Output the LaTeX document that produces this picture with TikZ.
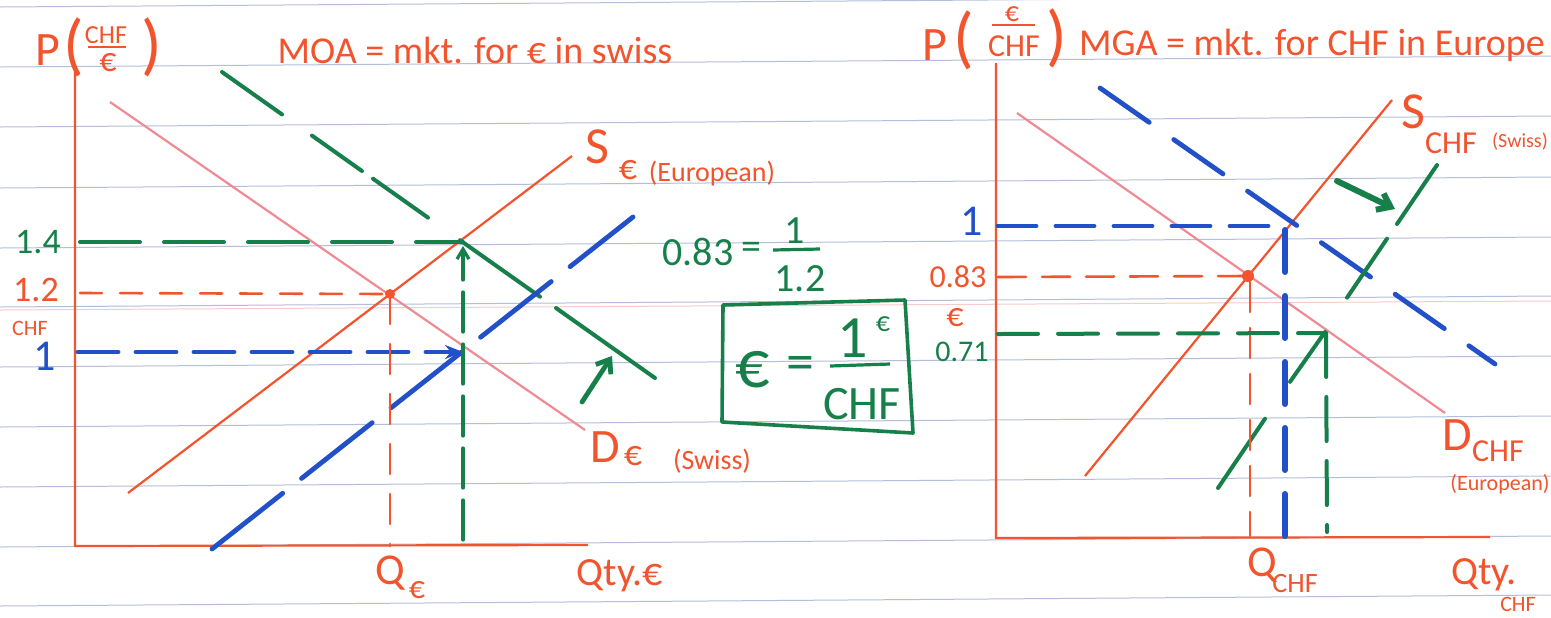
\documentclass[tikz,border=0pt]{standalone}
\usepackage{fontspec}
\setmainfont{Carlito}
\usetikzlibrary{arrows.meta}
\definecolor{ored}{HTML}{F2542D}
\definecolor{pinkl}{HTML}{F08A93}
\definecolor{dgreen}{HTML}{17804A}
\definecolor{mblue}{HTML}{2250C8}
\definecolor{ruled}{HTML}{B3BEDD}
\newcommand\fsz[1]{\fontsize{#1}{#1}\selectfont}
\tikzset{
  ol/.style={text=ored, inner sep=0pt},
  gl/.style={text=dgreen, inner sep=0pt},
  bl/.style={text=mblue, inner sep=0pt},
  axisline/.style={ored, line width=1.1pt},
  supline/.style={ored, line width=1.1pt},
  demline/.style={pinkl, line width=1.1pt},
  gdash/.style={dgreen, line width=2pt, line cap=round},
  bdash/.style={mblue, line width=2.4pt, line cap=round},
  odash/.style={ored, line width=1.3pt, line cap=round},
  eqdot/.style={fill=ored},
  marker/.style={dgreen, line width=2.4pt, line cap=round, line join=round},
}
\begin{document}
\begin{tikzpicture}[x=0.5pt,y=-0.5pt]
\useasboundingbox (0,0) rectangle (1551,617);
\fill[white] (0,0) rectangle (1551,617);
% ruled paper
\foreach \y in {7,67,127,188,248,307,367,427,487,547,606}
  \draw[ruled, line width=0.5pt] (0,\y) -- (1551,\y-11);
\draw[pinkl!45, line width=0.5pt] (0,310) -- (1551,301);

% ================= LEFT GRAPH =================
\coordinate (LO) at (75,546);
\coordinate (LYt) at (75,66);
\coordinate (LXe) at (588,545);
\draw[axisline] (LYt) -- (LO) -- (LXe);

\coordinate (LD1) at (110,102);
\coordinate (LD2) at (585,430);
\draw[demline] (LD1) -- (LD2);
\coordinate (LS1) at (128,493);
\coordinate (LS2) at (572,156);
\draw[supline] (LS1) -- (LS2);

% green shifted demand
\draw[gdash] (222,72) -- (282,114.4);
\draw[gdash] (312,135.6) -- (362,171);
\draw[gdash] (373,178.7) -- (428,217.6);
\draw[gdash] (460,240.2) -- (540,296.7);
\draw[gdash] (556,308) -- (655,378);
% blue shifted supply
\coordinate (LB1) at (212,549);
\coordinate (LB2) at (633,217);
\draw[bdash, dash pattern=on 45pt off 12pt] (LB1) -- (LB2);

% equilibrium points
\coordinate (LE) at (390,294);
\coordinate (LE2) at (463,242);
\coordinate (LE3) at (463,352);
% guides
\draw[gdash, dash pattern=on 30pt off 12pt] (80,242) -- (LE2);
\draw[odash, dash pattern=on 11pt off 9pt] (80,293) -- (LE);
\draw[bdash, dash pattern=on 20pt off 9pt, -{Stealth[length=9pt,width=7pt]}] (78,352) -- (LE3);
\draw[odash, dash pattern=on 15pt off 10pt] (LE) -- (390,546);
\draw[gdash, line width=1.6pt, dash pattern=on 20pt off 6pt, -{Straight Barb[length=5pt,width=6pt]}] (463,540) -- (463,246);
\fill[eqdot] (LE) circle (5);

% green arrow (shift)
\draw[marker, -{Straight Barb[length=6pt,width=9pt]}] (582,402) -- (612,356);

% left labels
\node[ol, font=\fsz{24}] (LP) at (48,50) {P};
\node[ol, font=\fsz{34}] (LPo) at (74,47) {(};
\node[ol, font=\fsz{13}] (LPn) at (106,35) {CHF};
\draw[ored, line width=1.2pt] (88,47) -- (126,47);
\node[ol, font=\fsz{17}] (LPd) at (108,63) {€};
\node[ol, font=\fsz{34}] (LPc) at (152,47) {)};
\node[ol, font=\fsz{19}] (LT) at (475,50) {MOA = mkt. for € in swiss};

\node[gl, font=\fsz{18}] (L14) at (38,242) {1.4};
\node[ol, font=\fsz{18}] (L12) at (36,290) {1.2};
\node[ol, font=\fsz{11}] (LCHF) at (30,328) {CHF};
\node[bl, font=\fsz{22}] (L1) at (45,356) {1};

\node[ol, font=\fsz{26}] (LSs) at (597,147) {S};
\node[ol, font=\fsz{18}] (LSe) at (628,170) {€};
\node[ol, font=\fsz{14}] (LSn) at (712,174) {(European)};
\node[ol, font=\fsz{24}] (LDd) at (605,447) {D};
\node[ol, font=\fsz{18}] (LDe) at (633,456) {€};
\node[ol, font=\fsz{14}] (LDn) at (712,461) {(Swiss)};
\node[ol, font=\fsz{22}] (LQ) at (390,573) {Q};
\node[ol, font=\fsz{16}] (LQe) at (417,590) {€};
\node[ol, font=\fsz{20}] (LQty) at (620,576) {Qty.€};

% ================= MIDDLE =================
\node[gl, font=\fsz{20}] (m83) at (698,252) {0.83};
\node[gl, font=\fsz{20}] (meq) at (751,251) {=};
\node[gl, font=\fsz{20}] (mn) at (795,231) {1};
\draw[dgreen, line width=1.6pt] (773,250) -- (820,249);
\node[gl, font=\fsz{20}] (md) at (800,279) {1.2};

\draw[dgreen, line width=1.8pt, line join=round] (723,305) -- (905,300) -- (913,433) -- (722,422) -- cycle;
\node[gl, font=\fsz{34}] (be) at (753,370) {€};
\node[gl, font=\fsz{28}] (beq) at (800,368) {=};
\node[gl, font=\fsz{30}] (bn) at (853,338) {1};
\node[gl, font=\fsz{14}] (bne) at (883,324) {€};
\draw[dgreen, line width=1.6pt] (830,366) -- (890,364);
\node[gl, font=\fsz{24}] (bd) at (862,404) {CHF};

% ================= RIGHT GRAPH =================
\coordinate (RO) at (996,538);
\coordinate (RYt) at (996,63);
\coordinate (RXe) at (1490,537);
\draw[axisline] (RYt) -- (RO) -- (RXe);

\coordinate (RD1) at (1017,113);
\coordinate (RD2) at (1445,413);
\draw[demline] (RD1) -- (RD2);
\coordinate (RS1) at (1085,476);
\coordinate (RS2) at (1392,100);
\draw[supline] (RS1) -- (RS2);

% blue shifted demand
\coordinate (RB1) at (1100,88);
\coordinate (RB2) at (1495,364);
\draw[bdash, dash pattern=on 30pt off 15pt] (RB1) -- (RB2);
% green shifted supply (dashed)
\draw[gdash] (1218,488) -- (1265,418.7);
\draw[gdash] (1290,381.8) -- (1325,332);
\draw[gdash] (1347,297.7) -- (1387,238.7);
\draw[gdash] (1397,224) -- (1437,165);

\coordinate (RE) at (1248,276);
\coordinate (RE2) at (1285,226);
\coordinate (RE3) at (1326,333);
\draw[bdash, dash pattern=on 19pt off 10pt] (998,226) -- (RE2);
\draw[bdash, line width=3pt, dash pattern=on 21pt off 12pt] (1285,230) -- (1285,543);
\draw[odash, dash pattern=on 14pt off 8pt] (998,277) -- (RE);
\draw[odash, dash pattern=on 15pt off 8pt] (1250,282) -- (1250,536);
\draw[gdash, dash pattern=on 20pt off 10pt] (998,334) -- (RE3);
\draw[gdash, dash pattern=on 22pt off 10pt] (RE3) -- (1327,532);
\fill[eqdot] (RE) circle (6);

% green arrow (shift)
\draw[marker, line width=3pt, -{Straight Barb[length=6pt,width=9pt]}] (1337,181) -- (1395,209);

% right labels
\node[ol, font=\fsz{24}] (RP) at (935,45) {P};
\node[ol, font=\fsz{34}] (RPo) at (964,40) {(};
\node[ol, font=\fsz{14}] (RPn) at (1012,14) {€};
\draw[ored, line width=1.2pt] (992,25) -- (1035,25);
\node[ol, font=\fsz{16}] (RPd) at (1014,46) {CHF};
\node[ol, font=\fsz{34}] (RPc) at (1057,38) {)};
\node[ol, font=\fsz{19}] (RT) at (1312,45) {MGA = mkt. for CHF in Europe};

\node[bl, font=\fsz{22}] (R1) at (972,221) {1};
\node[ol, font=\fsz{16}] (R83) at (958,277) {0.83};
\node[ol, font=\fsz{17}] (Re) at (955,318) {€};
\node[gl, font=\fsz{15}] (R71) at (962,352) {0.71};

\node[ol, font=\fsz{26}] (RSs) at (1413,112) {S};
\node[ol, font=\fsz{16}] (RSc) at (1451,143) {CHF};
\node[ol, font=\fsz{10}] (RSn) at (1520,142) {(Swiss)};
\node[ol, font=\fsz{24}] (RDd) at (1457,435) {D};
\node[ol, font=\fsz{16}] (RDc) at (1498,451) {CHF};
\node[ol, font=\fsz{11}] (RDn) at (1500,484) {(European)};
\node[ol, font=\fsz{22}] (RQ) at (1262,565) {Q};
\node[ol, font=\fsz{14}] (RQc) at (1295,583) {CHF};
\node[ol, font=\fsz{20}] (RQty) at (1484,575) {Qty.};
\node[ol, font=\fsz{11}] (RQc2) at (1518,604) {CHF};
\end{tikzpicture}
\end{document}
